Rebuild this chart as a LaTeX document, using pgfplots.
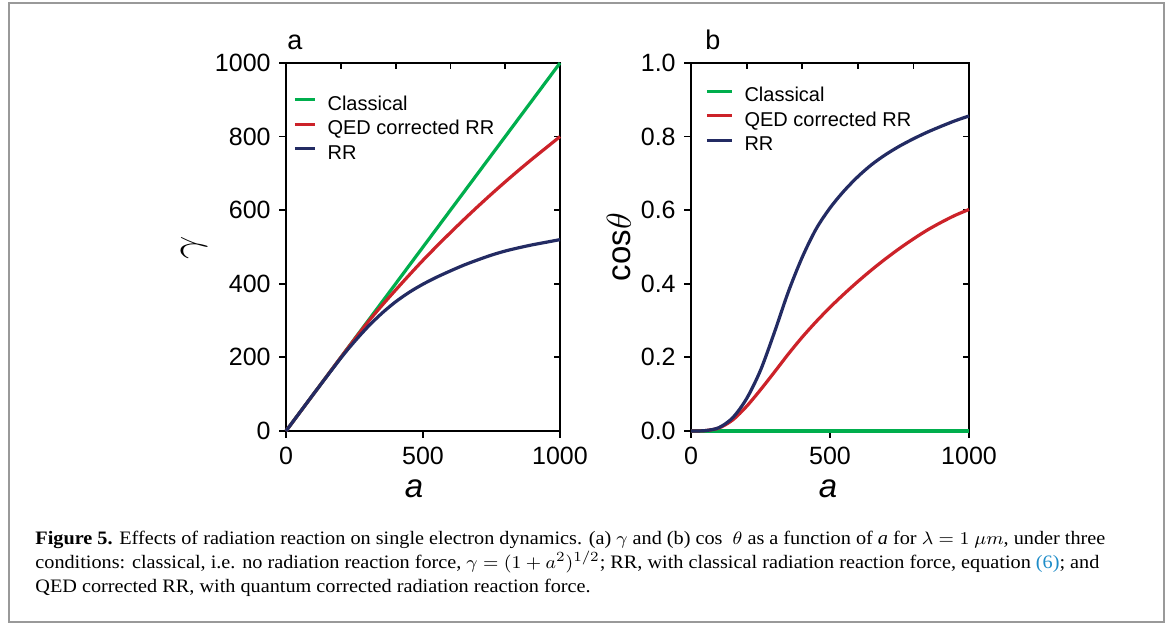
\documentclass[border=0pt]{standalone}
\usepackage{pgfplots}
\pgfplotsset{compat=1.18}
\usepackage{graphicx}
\usepackage{fontspec}
\setmainfont{Liberation Sans}
\newfontfamily\capfont{Liberation Serif}
\definecolor{cgreen}{RGB}{0,174,77}
\definecolor{cred}{RGB}{204,34,41}
\definecolor{cnavy}{RGB}{35,43,99}
\definecolor{capblue}{RGB}{30,140,200}
\newsavebox\capA\newsavebox\capB\newsavebox\capC
\newdimen\capw
\begin{document}%
\sbox\capA{\capfont\fontsize{9.5}{11}\selectfont\textbf{Figure 5.} Effects of radiation reaction on single electron dynamics. (a) $\gamma$ and (b) cos\ \ $\theta$ as a function of \textit{a} for $\lambda = 1\ \mu m$, under three}%
\sbox\capB{\capfont\fontsize{9.5}{11}\selectfont conditions: classical, i.e. no radiation reaction force, $\gamma = (1 + a^2)^{1/2}$; RR, with classical radiation reaction force, equation {\color{capblue}(6)}; and}%
\sbox\capC{\capfont\fontsize{9.5}{11}\selectfont QED corrected RR, with quantum corrected radiation reaction force.}%
\capw=\wd\capA\pgfmathsetmacro\capsc{535/\capw}%
\begin{tikzpicture}
\useasboundingbox (0,0) rectangle (585.5pt,312pt);
\draw[black!40, line width=0.75pt] (4.5pt,1pt) rectangle (582pt,310.5pt);
\pgfplotsset{
  common/.style={
    scale only axis, anchor=south west, height=184pt,
    axis line style={line width=1pt},
    every tick/.style={black, line width=0.9pt},
    tick label style={font=\fontsize{12.5}{14}\selectfont, inner sep=0pt},
    /pgf/number format/assume math mode=true,
    /pgf/number format/1000 sep={},
    xmin=0, xmax=1000,
    legend cell align=left,
    legend style={draw=none, fill=none, inner sep=0pt, column sep=5.5pt, row sep=-0.25pt,
      font=\fontsize{10}{12}\selectfont,
      nodes={inner sep=0pt, text height=8pt, text depth=4.5pt}},
  },
  main/.style={common, clip=false,
    xtick pos=left, ytick pos=left, tick align=outside,
    major tick length=3.5pt,
    xticklabel shift=4.5pt, yticklabel shift=4pt,
    xtick={0,500,1000},
    xlabel={\fontsize{16.5}{18}\selectfont\itshape a},
  },
  over/.style={common,
    axis line style={draw=none},
    xtick pos=right, ytick pos=right, tick align=inside,
    major tick length=2.8pt,
    xtick={200,400,600,800}, xticklabels={}, yticklabels={},
  },
}
% ---------- panel a ----------
\begin{axis}[over, at={(143pt,96.5pt)}, width=137pt,
  ymin=0, ymax=1000, ytick={200,400,600,800}]
\end{axis}
\begin{axis}[main, at={(143pt,96.5pt)}, width=137pt,
  ymin=0, ymax=1000, ytick={0,200,...,1000},
  xlabel style={at={(axis description cs:0.467,0)}, anchor=base, yshift=-33.5pt},
  ylabel={\fontsize{22}{24}\selectfont$\gamma$},
  ylabel style={at={(axis description cs:-0.336,0.497)}, anchor=center},
  legend style={at={(axis description cs:0.0255,0.916)}, anchor=north west},
  legend image code/.code={\draw[#1] (0pt,3.5pt) -- (10pt,3.5pt);},
]
\addplot[cgreen, line width=1.6pt] coordinates {(0,0) (1000,1000)};
\addlegendentry{Classical}
\addplot[cred, line width=1.6pt, smooth] coordinates {
(0,0)(100,100)(200,200)(250,249)(300,297)(350,341)(400,383)(450,424)(500,464)(550,502)
(600,539)(650,575)(700,610)(750,644)(800,677)(850,709)(900,740)(950,770)(1000,800)};
\addlegendentry{QED corrected RR}
\addplot[cnavy, line width=1.6pt, smooth] coordinates {
(0,0)(100,100)(200,198)(250,243)(300,284)(350,320)(400,351)(450,377)(500,399)(550,418)
(600,435)(650,451)(700,465)(750,478)(800,489)(850,498)(900,506)(950,513)(1000,520)};
\addlegendentry{RR}
\end{axis}
\node[anchor=base west, inner sep=0pt, font=\fontsize{13.5}{15}\selectfont] at (143.5pt,287pt) {a};
% ---------- panel b ----------
\begin{axis}[over, at={(345.5pt,96.5pt)}, width=139pt,
  ymin=0, ymax=1, ytick={0.2,0.4,0.6,0.8}]
\end{axis}
\begin{axis}[main, at={(345.5pt,96.5pt)}, width=139pt,
  ymin=0, ymax=1, ytick={0,0.2,...,1.0},
  yticklabel style={/pgf/number format/.cd, fixed, fixed zerofill, precision=1},
  xlabel style={at={(axis description cs:0.493,0)}, anchor=base, yshift=-33.5pt},
  ylabel={\fontsize{16.5}{18}\selectfont cos$\theta$},
  ylabel style={at={(axis description cs:-0.259,0.5)}, anchor=center},
  legend style={at={(axis description cs:0.05,0.939)}, anchor=north west},
  legend image code/.code={\draw[#1] (0pt,3.5pt) -- (12.5pt,3.5pt);},
]
\addplot[cgreen, line width=1.6pt] coordinates {(0,0) (1000,0)};
\addlegendentry{Classical}
\addplot[cred, line width=1.6pt, smooth] coordinates {
(0,0)(50,0.001)(100,0.008)(150,0.03)(200,0.067)(250,0.112)(300,0.160)(350,0.209)(400,0.255)
(450,0.297)(500,0.336)(550,0.372)(600,0.406)(650,0.438)(700,0.468)(750,0.496)(800,0.522)
(850,0.546)(900,0.567)(950,0.586)(1000,0.602)};
\addlegendentry{QED corrected RR}
\addplot[cnavy, line width=1.6pt, smooth] coordinates {
(0,0)(50,0.001)(100,0.009)(150,0.036)(200,0.088)(250,0.165)(300,0.268)(350,0.378)(400,0.472)
(450,0.549)(500,0.606)(550,0.652)(600,0.691)(650,0.724)(700,0.751)(750,0.774)(800,0.794)
(850,0.812)(900,0.828)(950,0.843)(1000,0.856)};
\addlegendentry{RR}
\end{axis}
\node[anchor=base west, inner sep=0pt, font=\fontsize{13.5}{15}\selectfont] at (352.5pt,287pt) {b};
% ---------- caption ----------
\node[anchor=base west, inner sep=0pt] at (17.5pt,39.5pt) {\scalebox{\capsc}[1]{\usebox\capA}};
\node[anchor=base west, inner sep=0pt] at (17.5pt,27.5pt) {\scalebox{\capsc}[1]{\usebox\capB}};
\node[anchor=base west, inner sep=0pt] at (17.5pt,15.5pt) {\scalebox{\capsc}[1]{\usebox\capC}};
\end{tikzpicture}%
\end{document}
